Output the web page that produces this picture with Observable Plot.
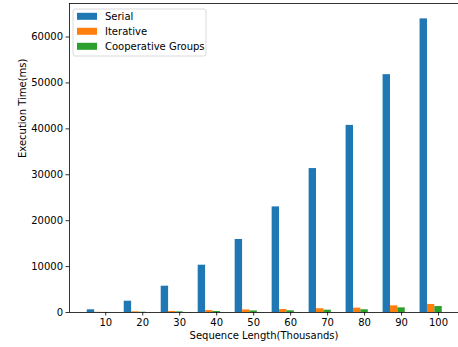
<!DOCTYPE html>
<html>
<head>
<meta charset="utf-8">
<script src="https://cdn.jsdelivr.net/npm/d3@7"></script>
<script src="https://cdn.jsdelivr.net/npm/@observablehq/plot@0.6"></script>
<style>
  html, body { margin: 0; padding: 0; background: #fff; overflow: hidden; }
  #chart { width: 458px; height: 347px; overflow: hidden; }
  svg { font-family: "DejaVu Sans", sans-serif; display: block; }
</style>
</head>
<body>
<div id="chart"></div>
<script>
const lengths = [10, 20, 30, 40, 50, 60, 70, 80, 90, 100];
const seriesNames = ["Serial", "Iterative", "Cooperative Groups"];
const serial = [590, 2460, 5730, 10300, 15900, 23000, 31350, 40750, 51800, 63950];
const iterative = [40, 150, 230, 420, 560, 650, 820, 950, 1450, 1750];
const cooperative = [15, 60, 140, 220, 340, 370, 510, 600, 1010, 1300];
const yTicks = [0, 10000, 20000, 30000, 40000, 50000, 60000];
const colors = ["#1f77b4", "#ff7f0e", "#2ca02c"];
const xLabel = "Sequence Length(Thousands)";
const yLabel = "Execution Time(ms)";

const seriesValues = [serial, iterative, cooperative];
const offsets = [-4, -2, 0];
const barWidth = 2;
const rows = [];
seriesNames.forEach((name, si) => {
  lengths.forEach((len, i) => {
    rows.push({series: name, length: len, value: seriesValues[si][i], offset: offsets[si]});
  });
});

const xMin = 0.2, xMax = 105.8, yMax = 67300;

const plot = Plot.plot({
  width: 458,
  height: 347,
  marginLeft: 69,
  marginRight: 0,
  marginTop: 3,
  marginBottom: 35,
  style: {fontFamily: "DejaVu Sans, sans-serif", fontSize: "10px", color: "#000", background: "#fff"},
  x: {domain: [xMin, xMax], range: [69, 459.5]},
  y: {domain: [0, yMax]},
  color: {domain: seriesNames, range: colors},
  marks: [
    Plot.rectY(rows, {
      x1: d => d.length + d.offset - barWidth / 2,
      x2: d => d.length + d.offset + barWidth / 2,
      y1: 0,
      y2: "value",
      fill: "series"
    }),
    Plot.axisX({ticks: lengths, tickSize: 3.5, tickPadding: 3, tickFormat: d => String(d), label: null, fontSize: 10, strokeWidth: 0.8}),
    Plot.axisY({ticks: yTicks, tickSize: 3.5, tickPadding: 3, tickFormat: d => String(d), label: null, fontSize: 10, strokeWidth: 0.8}),
    Plot.ruleX([xMin], {stroke: "#000", strokeWidth: 0.8}),
    Plot.ruleY([0], {stroke: "#000", strokeWidth: 0.8}),
    Plot.ruleY([yMax], {stroke: "#000", strokeWidth: 0.8}),
    Plot.text([xLabel], {frameAnchor: "bottom", dy: 26, text: d => d, fontSize: 10, fill: "#000"}),
    Plot.text([yLabel], {frameAnchor: "left", dx: -47, rotate: -90, text: d => d, fontSize: 10, fill: "#000"})
  ]
});

document.getElementById("chart").appendChild(plot);

// Legend drawn inside the SVG, matplotlib style (upper left)
const svg = d3.select(plot);
const lg = svg.append("g")
  .attr("font-family", "DejaVu Sans, sans-serif")
  .attr("font-size", 10)
  .attr("text-anchor", "start");
lg.append("rect")
  .attr("x", 73).attr("y", 9).attr("width", 133).attr("height", 47)
  .attr("rx", 2).attr("fill", "#fff").attr("fill-opacity", 0.8)
  .attr("stroke", "#d0d0d0").attr("stroke-width", 0.8);
seriesNames.forEach((name, i) => {
  const cy = 16.3 + i * 15;
  lg.append("rect").attr("x", 77).attr("y", cy - 3.5).attr("width", 20).attr("height", 7).attr("fill", colors[i]);
  lg.append("text").attr("x", 105).attr("y", cy).attr("dy", "0.35em")
    .attr("text-anchor", "start").attr("fill", "#000").text(name);
});
</script>
</body>
</html>
